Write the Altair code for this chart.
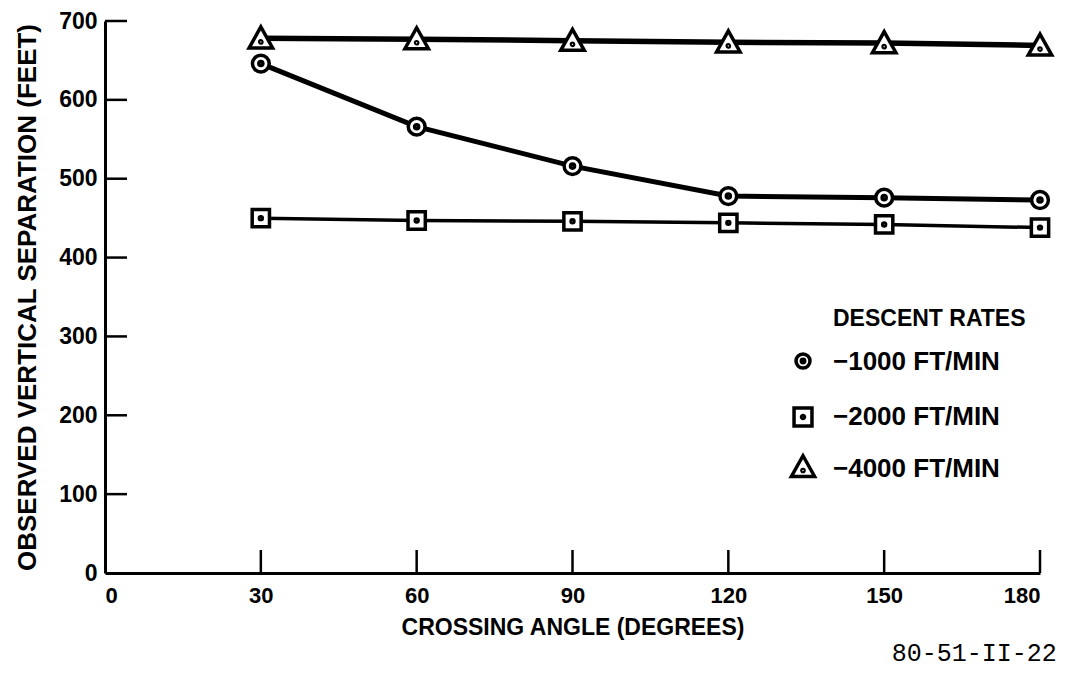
import altair as alt
import pandas as pd

# ---- data ----
angles = [30, 60, 90, 120, 150, 180]
sep_1000 = [646, 566, 516, 478, 476, 473]
sep_2000 = [450, 447, 446, 444, 442, 438]
sep_4000 = [678, 677, 675, 673, 672, 669]
series_names = ["\u22121000 FT/MIN", "\u22122000 FT/MIN", "\u22124000 FT/MIN"]
legend_title = "DESCENT RATES"
x_tick_values = [0, 30, 60, 90, 120, 150, 180]
y_tick_values = [0, 100, 200, 300, 400, 500, 600, 700]

# symbol outlines (unit box), each with a small centre dot
SYM_CIRCLE = ("M-0.7,0A0.7,0.7,0,1,1,0.7,0A0.7,0.7,0,1,1,-0.7,0Z"
              "M-0.17,0A0.17,0.17,0,1,1,0.17,0A0.17,0.17,0,1,1,-0.17,0Z")
SYM_SQUARE = ("M-0.72,-0.72L0.72,-0.72L0.72,0.72L-0.72,0.72Z"
              "M-0.12,0A0.12,0.12,0,1,1,0.12,0A0.12,0.12,0,1,1,-0.12,0Z")
SYM_TRIANGLE = ("M0,-0.95L0.98,0.8L-0.98,0.8Z"
                "M-0.09,0.3A0.09,0.09,0,1,1,0.09,0.3A0.09,0.09,0,1,1,-0.09,0.3Z")
symbol_paths = [SYM_CIRCLE, SYM_SQUARE, SYM_TRIANGLE]

rows = []
for name, vals in zip(series_names, [sep_1000, sep_2000, sep_4000]):
    for a, v in zip(angles, vals):
        rows.append({"angle": a, "sep": v, "rate": name})
df = pd.DataFrame(rows)

xtick_df = pd.DataFrame({"v": x_tick_values[1:]})
ytick_df = pd.DataFrame({"v": y_tick_values[1:]})
legend_df = pd.DataFrame({"rate": series_names})
legend_title_df = pd.DataFrame({"t": [legend_title]})

W, H = 935, 552
FONT = "Liberation Sans"

xscale = alt.Scale(domain=[0, 180], nice=False, zero=False)
yscale = alt.Scale(domain=[0, 700], nice=False)

x_enc = alt.X(
    "angle:Q", scale=xscale,
    axis=alt.Axis(values=x_tick_values, ticks=False, grid=False,
                  title="CROSSING ANGLE (DEGREES)", labelPadding=12,
                  titlePadding=10),
)
y_enc = alt.Y(
    "sep:Q", scale=yscale,
    axis=alt.Axis(values=y_tick_values, ticks=False, grid=False,
                  title="OBSERVED VERTICAL SEPARATION (FEET)",
                  labelPadding=8, titlePadding=18),
)

base = alt.Chart(df)

line_widths = [5, 3.5, 5.5]
line_layers = []
for i, (name, sw) in enumerate(zip(series_names, line_widths)):
    enc_x = x_enc if i == 0 else alt.X("angle:Q", scale=xscale)
    enc_y = y_enc if i == 0 else alt.Y("sep:Q", scale=yscale)
    line_layers.append(
        base.transform_filter(alt.datum.rate == name)
        .mark_line(color="black", strokeWidth=sw)
        .encode(x=enc_x, y=enc_y)
    )

points = base.mark_point(filled=False, color="black", fill="white",
                         stroke="black", strokeWidth=3.5, opacity=1,
                         fillOpacity=1, size=576).encode(
    x="angle:Q", y="sep:Q",
    shape=alt.Shape("rate:N",
                    scale=alt.Scale(domain=series_names, range=symbol_paths),
                    legend=None),
)

xticks = alt.Chart(xtick_df).mark_rule(color="black", strokeWidth=2.5).encode(
    x=alt.X("v:Q", scale=xscale), y=alt.value(H - 23), y2=alt.value(H))
yticks = alt.Chart(ytick_df).mark_rule(color="black", strokeWidth=2.5).encode(
    y=alt.Y("v:Q", scale=yscale), x=alt.value(0), x2=alt.value(22))

# ---- hand-built legend (key block inside the plot, lower right) ----
LEG_SYM_X, LEG_TXT_X = 698, 728
leg_sym_y = [340, 396, 446]
leg_sym_size = [400, 620, 560]
leg_txt_y = [349, 404, 456]
legend_layers = [
    alt.Chart(legend_title_df).mark_text(
        align="left", baseline="alphabetic", font=FONT, fontSize=23,
        fontWeight="bold", color="black",
    ).encode(x=alt.value(LEG_TXT_X), y=alt.value(305), text="t:N")
]
for i, name in enumerate(series_names):
    row = legend_df[legend_df["rate"] == name]
    legend_layers.append(
        alt.Chart(row).mark_point(
            shape=symbol_paths[i], size=leg_sym_size[i], filled=False,
            fill="white", stroke="black", strokeWidth=3.5, opacity=1,
            fillOpacity=1,
        ).encode(x=alt.value(LEG_SYM_X), y=alt.value(leg_sym_y[i]))
    )
    legend_layers.append(
        alt.Chart(row).mark_text(
            align="left", baseline="alphabetic", font=FONT, fontSize=26,
            fontWeight="bold", color="black",
        ).encode(x=alt.value(LEG_TXT_X), y=alt.value(leg_txt_y[i]),
                 text="rate:N")
    )

chart = alt.layer(*line_layers, xticks, yticks, points, *legend_layers).properties(
    width=W, height=H,
    autosize=alt.AutoSizeParams(type="none"),
    padding={"left": 97, "top": 13, "right": 22, "bottom": 96},
    title=alt.TitleParams("80-51-II-22", orient="bottom", anchor="end",
                          font="Liberation Mono", fontSize=25,
                          fontWeight="normal", color="black", dx=-2, offset=2),
).configure_view(stroke=None).configure_axis(
    domainColor="black", domainWidth=3,
    labelFont=FONT, labelFontWeight="bold", labelColor="black",
    titleFont=FONT, titleFontWeight="bold", titleColor="black",
).configure_axisX(labelFontSize=22, titleFontSize=23).configure_axisY(
    labelFontSize=23, titleFontSize=26
)

chart.save("out.html", embed_options={"renderer": "svg", "actions": False})
